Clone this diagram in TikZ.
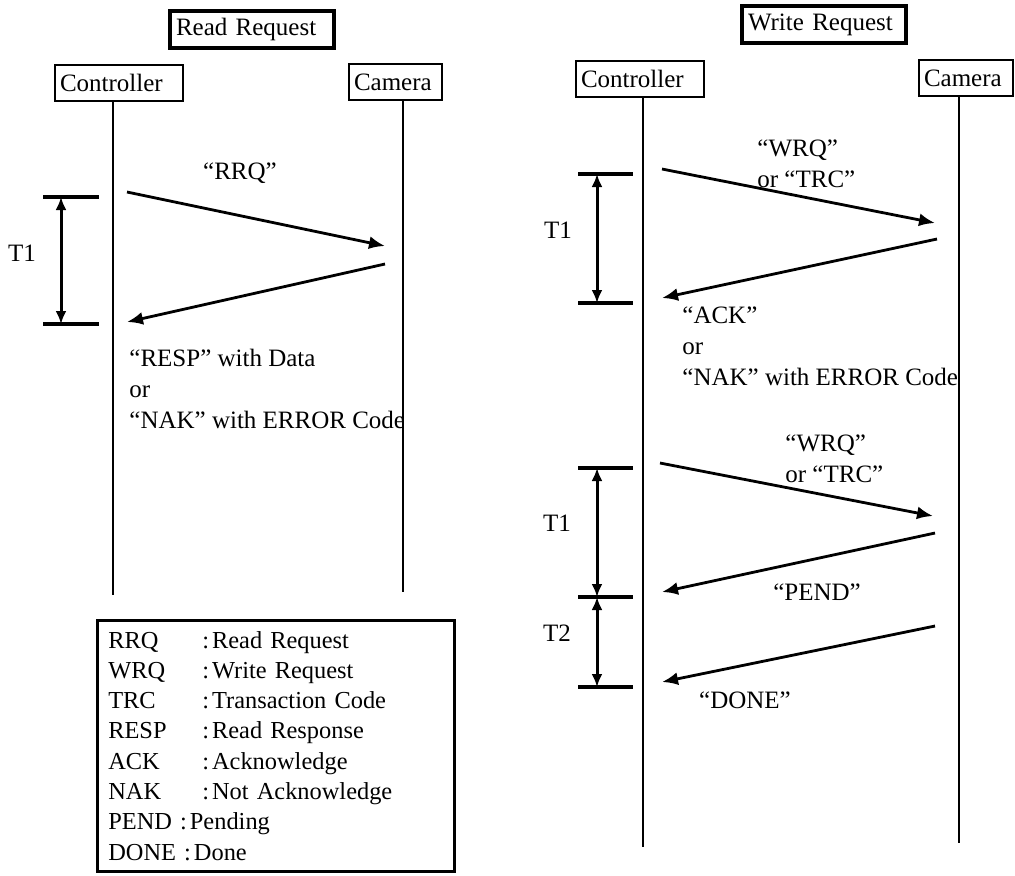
\documentclass[tikz,border=0pt]{standalone}
\usepackage{fontspec}
\setmainfont{Liberation Serif}
\usetikzlibrary{arrows.meta,positioning}
\begin{document}
\begin{tikzpicture}[x=0.5pt, y=-0.5pt, font=\fontsize{12.5}{15.5}\selectfont,
  titlebox/.style={draw, line width=2pt, anchor=north west, align=left, inner xsep=3pt, inner ysep=0pt, minimum height=18.5pt, text width=76pt},
  actor/.style={draw, line width=1pt, anchor=north west, align=left, inner xsep=2.5pt, inner ysep=0pt, minimum height=18pt},
  life/.style={line width=1pt},
  msg/.style={line width=1.4pt, -{Latex[length=8pt,width=6.5pt]}},
  timer/.style={line width=1.5pt, {Latex[length=6.5pt,width=5.5pt]}-{Latex[length=6.5pt,width=5.5pt]}},
  tick/.style={line width=1.6pt},
  lbl/.style={inner sep=0pt},
  multi/.style={inner sep=0pt, anchor=north west, align=left}]
\useasboundingbox (0,0) rectangle (1015,875);

% read request
\node[titlebox] (rdtitle) at (168,9) {Read Request};
\node[actor, text width=59pt] (ctlL) at (54,64) {Controller};
\node[actor, text width=41.5pt] (camL) at (348,63) {Camera};
\coordinate (ctlLend) at (113,595);
\coordinate (camLend) at (403,592);
\draw[life] (ctlL.south -| ctlLend) -- (ctlLend);
\draw[life] (camL.south -| camLend) -- (camLend);

\coordinate (rrqA) at (127,192);
\coordinate (rrqB) at (385,246);
\coordinate (respA) at (385,264);
\coordinate (respB) at (127,322);
\draw[msg] (rrqA) -- (rrqB);
\draw[msg] (respA) -- (respB);
\node[lbl] (rrqlbl) at (240,173) {“RRQ”};
\node[multi] (resplbl) at (129,349) {“RESP” with Data\\or\\“NAK” with ERROR Code};

\foreach \y [count=\i] in {197,324} {
  \draw[tick] (43,\y) -- (99,\y);
  \coordinate (lt\i) at (61,\y);
}
\draw[timer] (lt1) -- (lt2);
\node[lbl] (ltlbl) at (22,253) {T1};

% legend
\node[draw, line width=1.3pt, anchor=north west, align=left, inner xsep=5.5pt, inner ysep=0pt,
  text width=167.5pt, minimum height=125.5pt, font=\fontsize{12.2}{15.15}\selectfont] (legend) at (96,619)
  {\makebox[47pt][l]{RRQ}:\hspace{1.5pt}Read Request\\
   \makebox[47pt][l]{WRQ}:\hspace{1.5pt}Write Request\\
   \makebox[47pt][l]{TRC}:\hspace{1.5pt}Transaction Code\\
   \makebox[47pt][l]{RESP}:\hspace{1.5pt}Read Response\\
   \makebox[47pt][l]{ACK}:\hspace{1.5pt}Acknowledge\\
   \makebox[47pt][l]{NAK}:\hspace{1.5pt}Not Acknowledge\\
   PEND :\hspace{1.5pt}Pending\\
   DONE :\hspace{1.5pt}Done};

% write request
\node[titlebox] (wrtitle) at (740,4) {Write Request};
\node[actor, text width=59pt] (ctlR) at (575,60) {Controller};
\node[actor, text width=42pt] (camR) at (918,59) {Camera};
\coordinate (ctlRend) at (643,847);
\coordinate (camRend) at (959,843);
\draw[life] (ctlR.south -| ctlRend) -- (ctlRend);
\draw[life] (camR.south -| camRend) -- (camRend);

\coordinate (wrqA) at (662,169);
\coordinate (wrqB) at (935,223);
\coordinate (ackA) at (937,239);
\coordinate (ackB) at (662,298);
\coordinate (wrq2A) at (660,463);
\coordinate (wrq2B) at (933,516);
\coordinate (pendA) at (935,533);
\coordinate (pendB) at (662,592);
\coordinate (doneA) at (935,626);
\coordinate (doneB) at (662,682);
\draw[msg] (wrqA) -- (wrqB);
\draw[msg] (ackA) -- (ackB);
\draw[msg] (wrq2A) -- (wrq2B);
\draw[msg] (pendA) -- (pendB);
\draw[msg] (doneA) -- (doneB);
\node[multi] (wrqlbl) at (757,139) {“WRQ”\\or “TRC”};
\node[multi] (acklbl) at (682,306) {“ACK”\\or\\“NAK” with ERROR Code};
\node[multi] (wrq2lbl) at (785,434) {“WRQ”\\or “TRC"};
\node[lbl] (pendlbl) at (817,592) {“PEND”};
\node[lbl] (donelbl) at (745,700) {“DONE”};

\foreach \y [count=\i] in {174,303,468,597,687} {
  \draw[tick] (578,\y) -- (633,\y);
  \coordinate (rt\i) at (597,\y);
}
\draw[timer] (rt1) -- (rt2);
\draw[timer] (rt3) -- (rt4);
\draw[timer] (rt4) -- (rt5);
\node[lbl] (rt1lbl) at (558,230) {T1};
\node[lbl] (rt2lbl) at (557,523) {T1};
\node[lbl] (rt3lbl) at (557,633) {T2};
\end{tikzpicture}
\end{document}
